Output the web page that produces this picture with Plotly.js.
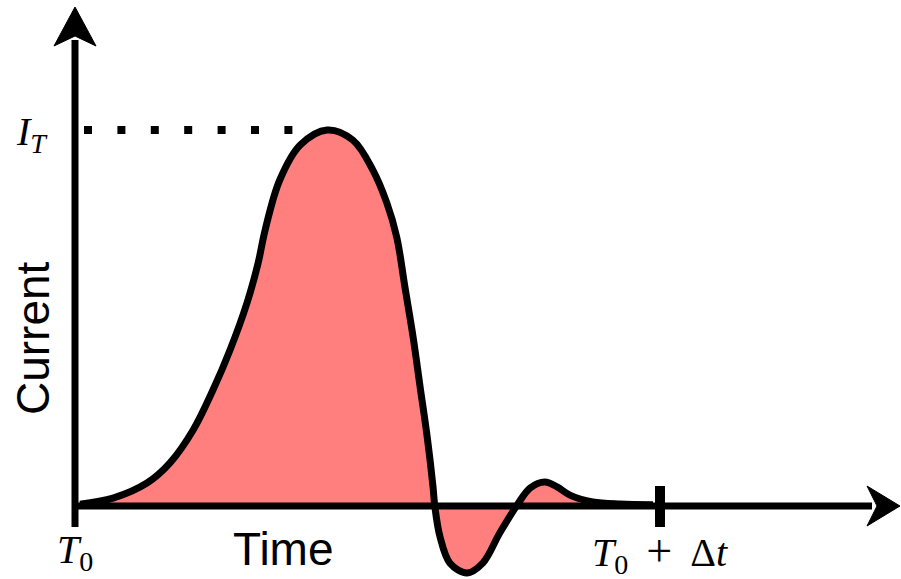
<!DOCTYPE html>
<html>
<head>
<meta charset="utf-8">
<script src="https://cdn.plot.ly/plotly-3.0.1.min.js"></script>
<style>
  html, body { margin: 0; padding: 0; background: #ffffff; }
  #chart { width: 901px; height: 579px; }
</style>
</head>
<body>
<div id="chart"></div>
<script>
// Pulse current over one window, time in units of Δt from T0, current in units of I_T
const timeT = [0.0085, 0.065, 0.123, 0.162, 0.202, 0.236, 0.265, 0.294, 0.313, 0.325,
               0.350, 0.385, 0.431, 0.475, 0.509, 0.533, 0.550, 0.564, 0.578, 0.590,
               0.602, 0.612, 0.615, 0.624, 0.641, 0.670, 0.697, 0.726, 0.756, 0.778,
               0.803, 0.824, 0.846, 0.885, 0.932, 0.988];
const current = [0.005, 0.021, 0.061, 0.114, 0.202, 0.309, 0.415, 0.540, 0.646, 0.734,
                 0.867, 0.960, 1.000, 0.973, 0.894, 0.806, 0.715, 0.582, 0.449, 0.316,
                 0.184, 0.051, 0.000, -0.082, -0.152, -0.178, -0.152, -0.072, 0.003, 0.048,
                 0.064, 0.051, 0.029, 0.011, 0.005, 0.003];

const peakLevel = 1.0;   // I_T
const windowEnd = 1.0;   // T0 + Δt

const xTickLabels = ['<i>T</i><sub>0</sub>',
                     '<i>T</i><sub>0</sub>\u00a0\u2009<span style="font-size:46px">+</span>\u2009\u00a0Δ<i>t</i>'];
const yTickLabel = '<i>I</i><sub><i>T</i></sub>';
const xTitle = 'Time';
const yTitle = 'Current';

// Canvas geometry: the time axis origin and scale, current axis origin and scale (px)
const W = 901, H = 579;
const X0 = 75, XS = 585, Y0 = 506, YS = 376;
const tx = p => (p - X0) / XS;
const cy = p => (Y0 - p) / YS;

const fillTrace = {
  x: timeT, y: current, type: 'scatter', mode: 'lines',
  line: { color: 'rgba(255,0,0,0.55)', width: 1.5, shape: 'linear' },
  fill: 'tozeroy', fillcolor: 'rgba(255,0,0,0.5)', hoverinfo: 'skip'
};
const curveTrace = {
  x: timeT, y: current, type: 'scatter', mode: 'lines',
  line: { color: '#000000', width: 7, shape: 'spline', smoothing: 1 },
  hoverinfo: 'skip'
};

const black = '#000000';
const shapes = [
  // current axis
  { type: 'line', xref: 'x', yref: 'y', x0: 0, x1: 0, y0: cy(527), y1: cy(40),
    line: { color: black, width: 7 } },
  // time axis
  { type: 'line', xref: 'x', yref: 'y', x0: tx(72), x1: tx(872), y0: 0, y1: 0,
    line: { color: black, width: 7 } },
  // arrow heads
  { type: 'path', xref: 'x', yref: 'y',
    path: `M ${0} ${cy(7)} L ${tx(96)} ${cy(46)} L ${0} ${cy(36)} L ${tx(54)} ${cy(46)} Z`,
    fillcolor: black, line: { color: black, width: 1 } },
  { type: 'path', xref: 'x', yref: 'y',
    path: `M ${tx(900)} 0 L ${tx(867)} ${cy(486)} L ${tx(877)} 0 L ${tx(867)} ${cy(526)} Z`,
    fillcolor: black, line: { color: black, width: 1 } },
  // end-of-window tick
  { type: 'line', xref: 'x', yref: 'y', x0: windowEnd, x1: windowEnd, y0: cy(486), y1: cy(527),
    line: { color: black, width: 10 } },
  // peak level guide
  { type: 'line', xref: 'x', yref: 'y', x0: tx(84), x1: tx(293), y0: peakLevel, y1: peakLevel,
    line: { color: black, width: 8, dash: '8px,25.4px' } }
];

const mathFont = { family: 'Liberation Serif, DejaVu Serif, serif', size: 40, color: black };
const sansFont = { family: 'Liberation Sans, Arial, sans-serif', size: 46, color: black };

const annotations = [
  { xref: 'x', yref: 'y', x: tx(32), y: cy(134), text: yTickLabel, showarrow: false,
    xanchor: 'center', yanchor: 'middle', font: mathFont },
  { xref: 'x', yref: 'y', x: 0, y: cy(552), text: xTickLabels[0], showarrow: false,
    xanchor: 'center', yanchor: 'middle', font: mathFont },
  { xref: 'x', yref: 'y', x: windowEnd, y: cy(552), text: xTickLabels[1], showarrow: false,
    xanchor: 'center', yanchor: 'middle', font: mathFont },
  { xref: 'x', yref: 'y', x: tx(283), y: cy(549), text: xTitle, showarrow: false,
    xanchor: 'center', yanchor: 'middle', font: sansFont },
  { xref: 'x', yref: 'y', x: tx(33), y: cy(338), text: yTitle, showarrow: false,
    textangle: -90, xanchor: 'center', yanchor: 'middle', font: sansFont }
];

const layout = {
  width: W, height: H,
  margin: { l: 0, r: 0, t: 0, b: 0, pad: 0 },
  paper_bgcolor: '#ffffff', plot_bgcolor: '#ffffff',
  showlegend: false,
  xaxis: { range: [tx(0), tx(W)], visible: false, fixedrange: true },
  yaxis: { range: [cy(H), cy(0)], visible: false, fixedrange: true },
  shapes: shapes,
  annotations: annotations
};

Plotly.newPlot('chart', [fillTrace, curveTrace], layout, { staticPlot: true, displayModeBar: false });
</script>
</body>
</html>
